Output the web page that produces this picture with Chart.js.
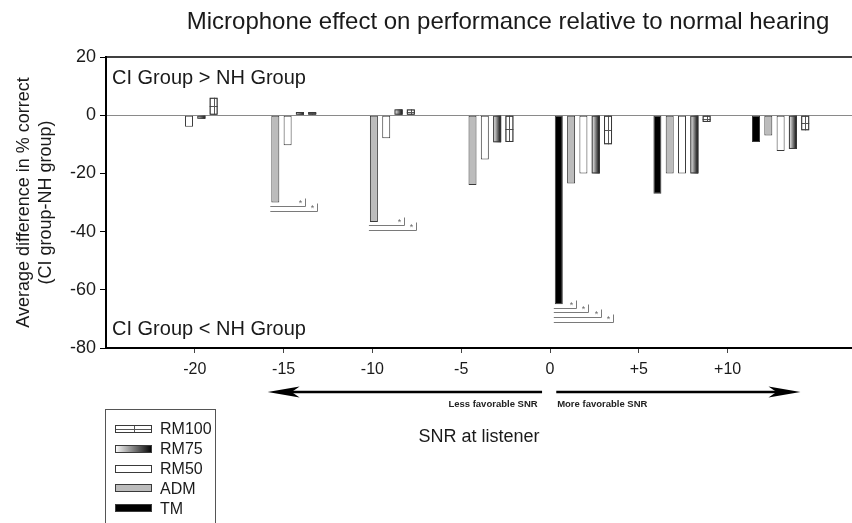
<!DOCTYPE html>
<html><head><meta charset="utf-8">
<script src="https://cdn.jsdelivr.net/npm/chart.js@4/dist/chart.umd.min.js"></script>
<style>html,body{margin:0;padding:0;background:#fff}#wrap{width:852px;height:523px;position:relative}</style>
</head><body><div id="wrap"><canvas id="c" width="852" height="523"></canvas></div>
<script>
// ---- data ----
const snrLabels   = ['-20', '-15', '-10', '-5', '0', '+5', '+10'];
const snrValues   = [-20, -15, -10, -5, 0, 5, 10];
const seriesNames = ['TM', 'ADM', 'RM50', 'RM75', 'RM100'];
const tmValues    = [null, null, null, null, -65, -27, -9.2];
const admValues   = [null, -30, -36.7, -24, -23.5, -20, -7];
const rm50Values  = [-4, -10.3, -7.9, -15.2, -20, -20, -12.3];
const rm75Values  = [-1.2, 1.1, 2, -9.3, -20, -20, -11.6];
const rm100Values = [6, 1.1, 2, -9.2, -10, -2.3, -5.2];
const yTickValues = [20, 0, -20, -40, -60, -80];
const legendOrder = ['RM100', 'RM75', 'RM50', 'ADM', 'TM'];
const sigComparisons = [
  {group: 1, ref: 'ADM', vs: ['RM75', 'RM100']},
  {group: 2, ref: 'ADM', vs: ['RM75', 'RM100']},
  {group: 4, ref: 'TM',  vs: ['ADM', 'RM50', 'RM75', 'RM100']}
];

const FAMILY = '"Liberation Sans", Arial, Helvetica, sans-serif';
const TXT = '#1a1a1a';
Chart.defaults.font.family = FAMILY;
Chart.defaults.color = TXT;

const fills = {TM: '#000000', ADM: '#bcbcbc', RM50: '#ffffff', RM75: '#8a8a8a', RM100: '#ffffff'};
const valuesBySeries = {TM: tmValues, ADM: admValues, RM50: rm50Values, RM75: rm75Values, RM100: rm100Values};

const datasets = seriesNames.map(name => ({
  label: name,
  xAxisID: 'x', yAxisID: 'y',
  data: valuesBySeries[name].map((v, i) => ({x: i, y: v})),
  backgroundColor: fills[name],
  borderColor: '#3a3a3a',
  borderWidth: 1,
  borderSkipped: false
}));

function props(el) { return el.getProps(['x', 'y', 'base', 'width'], true); }

function drawGradientBox(ctx, l, t, w, h) {
  const g = ctx.createLinearGradient(l, 0, l + w, 0);
  g.addColorStop(0, '#ffffff');
  g.addColorStop(1, '#000000');
  ctx.fillStyle = g;
  ctx.fillRect(l, t, w, h);
}
function drawCross(ctx, l, t, w, h) {
  ctx.strokeStyle = '#555';
  ctx.lineWidth = 1;
  ctx.beginPath();
  ctx.moveTo(Math.round(l + w / 2) + 0.5, t);
  ctx.lineTo(Math.round(l + w / 2) + 0.5, t + h);
  ctx.moveTo(l, Math.round(t + h / 2) + 0.5);
  ctx.lineTo(l + w, Math.round(t + h / 2) + 0.5);
  ctx.stroke();
}

function drawArrow(ctx, xTail, xTip, y) {
  const dir = xTip > xTail ? 1 : -1;
  ctx.save();
  ctx.strokeStyle = '#000';
  ctx.fillStyle = '#000';
  ctx.lineWidth = 2.5;
  ctx.beginPath();
  ctx.moveTo(xTail, y);
  ctx.lineTo(xTip - dir * 20, y);
  ctx.stroke();
  ctx.beginPath();
  ctx.moveTo(xTip, y);
  ctx.lineTo(xTip - dir * 32, y - 5.5);
  ctx.lineTo(xTip - dir * 24, y);
  ctx.lineTo(xTip - dir * 32, y + 5.5);
  ctx.closePath();
  ctx.fill();
  ctx.restore();
}

const decorPlugin = {
  id: 'decor',
  afterDatasetDraw(chart, args) {
    const ds = chart.data.datasets[args.index];
    const ctx = chart.ctx;
    if (ds.label !== 'RM75' && ds.label !== 'RM100') return;
    ctx.save();
    args.meta.data.forEach((el, i) => {
      if (ds.data[i].y == null) return;
      const p = props(el);
      const l = p.x - p.width / 2, t = Math.min(p.y, p.base), h = Math.abs(p.base - p.y);
      if (ds.label === 'RM75') {
        drawGradientBox(ctx, l, t, p.width, h);
      } else {
        drawCross(ctx, l, t, p.width, h);
      }
      ctx.strokeStyle = '#3a3a3a';
      ctx.lineWidth = 1;
      ctx.strokeRect(l + 0.5, t + 0.5, p.width - 1, h - 1);
    });
    ctx.restore();
  },
  afterDatasetsDraw(chart) {
    const ctx = chart.ctx;
    ctx.save();
    ctx.font = '9px ' + FAMILY;
    ctx.textAlign = 'center';
    ctx.textBaseline = 'middle';
    sigComparisons.forEach(cmp => {
      const rp = props(chart.getDatasetMeta(seriesNames.indexOf(cmp.ref)).data[cmp.group]);
      const left = rp.x - rp.width / 2 - 1;
      const bottom = Math.max(rp.y, rp.base);
      cmp.vs.forEach((name, k) => {
        const p = props(chart.getDatasetMeta(seriesNames.indexOf(name)).data[cmp.group]);
        const right = Math.round(p.x + p.width / 2 + 1) + 0.5;
        const ly = Math.round(bottom + 3.5 + k * 4.6) + 0.5;
        ctx.strokeStyle = '#7a7a7a';
        ctx.lineWidth = 1;
        ctx.beginPath();
        ctx.moveTo(left, ly);
        ctx.lineTo(right, ly);
        ctx.lineTo(right, ly - 8);
        ctx.stroke();
        ctx.fillStyle = '#6a6a6a';
        ctx.fillText('*', right - 5, ly - 3);
      });
    });
    ctx.restore();
  },
  afterDraw(chart) {
    const ctx = chart.ctx;
    const a = chart.chartArea;
    const xt = chart.scales.xt;
    ctx.save();
    // top border of plot box
    ctx.strokeStyle = '#000';
    ctx.lineWidth = 1.5;
    ctx.beginPath();
    ctx.moveTo(a.left, a.top);
    ctx.lineTo(a.right, a.top);
    ctx.stroke();

    // title
    ctx.fillStyle = TXT;
    ctx.textBaseline = 'middle';
    ctx.textAlign = 'center';
    ctx.font = '24px ' + FAMILY;
    ctx.fillText('Microphone effect on performance relative to normal hearing', 508, 22);

    // region notes
    ctx.textAlign = 'left';
    ctx.font = '20px ' + FAMILY;
    ctx.fillText('CI Group > NH Group', a.left + 6, a.top + 21);
    ctx.fillText('CI Group < NH Group', a.left + 6, a.bottom - 19);

    // arrows
    const ay = a.bottom + 44;
    drawArrow(ctx, xt.getPixelForValue(-0.45), xt.getPixelForValue(-15.9), ay);
    drawArrow(ctx, xt.getPixelForValue(0.35), xt.getPixelForValue(14.1), ay);
    ctx.font = 'bold 9.5px ' + FAMILY;
    ctx.fillStyle = '#222';
    ctx.textAlign = 'right';
    ctx.fillText('Less favorable SNR', xt.getPixelForValue(-0.7), ay + 12);
    ctx.textAlign = 'left';
    ctx.fillText('More favorable SNR', xt.getPixelForValue(0.4), ay + 12);

    // legend
    const bx = 105.5, by = 409.5, bw = 110, bh = 120;
    ctx.strokeStyle = '#555';
    ctx.lineWidth = 1;
    ctx.strokeRect(bx, by, bw, bh);
    ctx.font = '16px ' + FAMILY;
    ctx.textAlign = 'left';
    ctx.textBaseline = 'middle';
    legendOrder.forEach((name, i) => {
      const cy = 429 + i * 19.8;
      const sx = 115, sw = 37, sh = 8, sy = Math.round(cy - sh / 2);
      if (name === 'RM75') {
        drawGradientBox(ctx, sx, sy, sw, sh);
      } else {
        ctx.fillStyle = fills[name];
        ctx.fillRect(sx, sy, sw, sh);
        if (name === 'RM100') drawCross(ctx, sx, sy, sw, sh);
      }
      ctx.strokeStyle = '#3a3a3a';
      ctx.lineWidth = 1;
      ctx.strokeRect(sx + 0.5, sy + 0.5, sw - 1, sh - 1);
      ctx.fillStyle = TXT;
      ctx.fillText(name, 160, cy + 1);
    });
    ctx.restore();
  }
};

new Chart(document.getElementById('c').getContext('2d'), {
  type: 'bar',
  data: {datasets},
  options: {
    responsive: false,
    animation: false,
    devicePixelRatio: 1,
    layout: {padding: {left: 0, right: 0, top: 57, bottom: 75}},
    categoryPercentage: 0.624,
    barPercentage: 0.65,
    plugins: {legend: {display: false}, tooltip: {enabled: false}, title: {display: false}},
    scales: {
      x: {
        type: 'linear', display: false, min: -0.842, max: 6.724, offset: false,
        grid: {offset: false},
        afterBuildTicks: s => { s.ticks = snrValues.map((_, i) => ({value: i})); }
      },
      xt: {
        type: 'linear', position: 'bottom', min: -25, max: 17, offset: false,
        afterBuildTicks: s => { s.ticks = snrValues.map(v => ({value: v})); },
        ticks: {
          autoSkip: false, maxRotation: 0, padding: 7, color: TXT,
          font: {size: 16},
          callback: v => { const i = snrValues.indexOf(v); return i >= 0 ? snrLabels[i] : ''; }
        },
        grid: {display: true, offset: false, drawOnChartArea: false, drawTicks: true, tickLength: 5, tickColor: '#444'},
        border: {display: true, color: '#000', width: 2},
        title: {display: true, text: 'SNR at listener', color: TXT, font: {size: 18}, padding: {top: 0, bottom: 0}},
        afterFit: s => { s.height = 100; }
      },
      y: {
        type: 'linear', position: 'left', min: -80, max: 20,
        afterBuildTicks: s => { s.ticks = yTickValues.map(v => ({value: v})); },
        ticks: {color: TXT, font: {size: 18}, padding: 4},
        grid: {
          color: c => (c.tick && c.tick.value === 0) ? '#8a8a8a' : 'rgba(0,0,0,0)',
          tickColor: '#000', tickLength: 6, lineWidth: 1
        },
        border: {display: true, color: '#000', width: 2},
        title: {
          display: true, text: ['Average difference in % correct', '(CI group-NH group)'],
          color: TXT, font: {size: 18, lineHeight: 1.22}, padding: {top: 13, bottom: 0}
        },
        afterFit: s => { s.width = 106; }
      }
    }
  },
  plugins: [decorPlugin]
});
</script>
</body></html>
